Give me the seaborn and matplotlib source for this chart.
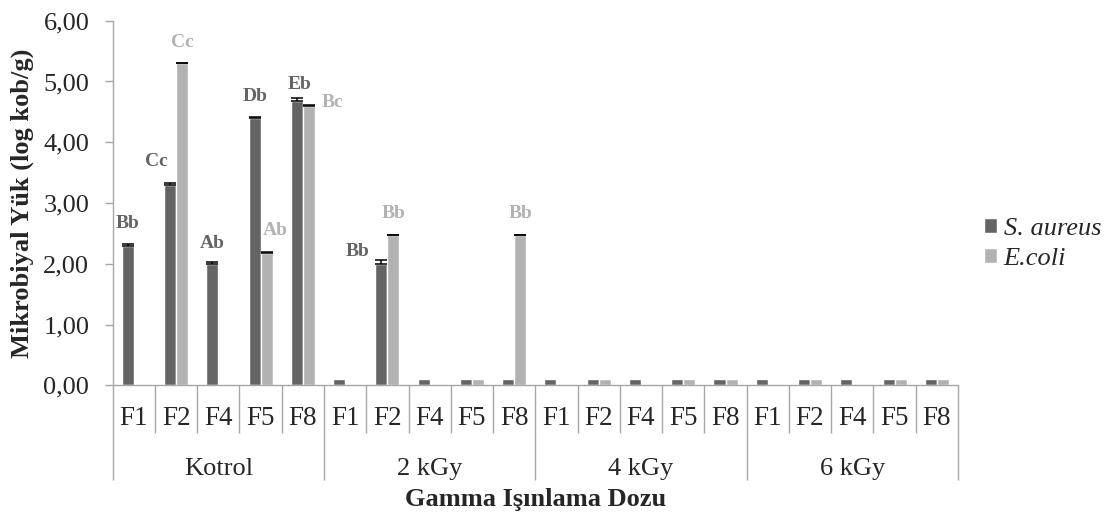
import numpy as np
import pandas as pd
import matplotlib
matplotlib.use("Agg")
import matplotlib.pyplot as plt
import matplotlib.transforms as mtransforms
import seaborn as sns

# Irradiation doses and formulations
doses = ["Kotrol", "2 kGy", "4 kGy", "6 kGy"]
formulations = ["F1", "F2", "F4", "F5", "F8"]
species = ["S. aureus", "E.coli"]

# Mean microbial load (log kob/g), one row per dose, columns follow formulations
s_aureus = [
    [2.30, 3.30, 2.00, 4.40, 4.68],
    [0.10, 2.00, 0.10, 0.10, 0.10],
    [0.10, 0.10, 0.10, 0.10, 0.10],
    [0.10, 0.10, 0.10, 0.10, 0.10],
]
e_coli = [
    [0.00, 5.30, 0.00, 2.17, 4.60],
    [0.00, 2.47, 0.00, 0.10, 2.47],
    [0.00, 0.10, 0.00, 0.10, 0.10],
    [0.00, 0.10, 0.00, 0.10, 0.10],
]
# Standard deviations
s_aureus_sd = [
    [0.02, 0.03, 0.03, 0.01, 0.04],
    [0.00, 0.07, 0.00, 0.00, 0.00],
    [0.00, 0.00, 0.00, 0.00, 0.00],
    [0.00, 0.00, 0.00, 0.00, 0.00],
]
e_coli_sd = [
    [0.00, 0.01, 0.00, 0.03, 0.01],
    [0.00, 0.01, 0.00, 0.00, 0.01],
    [0.00, 0.00, 0.00, 0.00, 0.00],
    [0.00, 0.00, 0.00, 0.00, 0.00],
]

# Significance letters: (dose, formulation, species, text)
letters = [
    ("Kotrol", "F1", "S. aureus", "Bb"),
    ("Kotrol", "F2", "S. aureus", "Cc"),
    ("Kotrol", "F4", "S. aureus", "Ab"),
    ("Kotrol", "F5", "S. aureus", "Db"),
    ("Kotrol", "F8", "S. aureus", "Eb"),
    ("Kotrol", "F2", "E.coli", "Cc"),
    ("Kotrol", "F5", "E.coli", "Ab"),
    ("Kotrol", "F8", "E.coli", "Bc"),
    ("2 kGy", "F2", "S. aureus", "Bb"),
    ("2 kGy", "F2", "E.coli", "Bb"),
    ("2 kGy", "F8", "E.coli", "Bb"),
]
# Label placement tweaks: horizontal shift in points, vertical gap above the bar in data units
letter_nudges = [
    (0, 0.34), (-10, 0.36), (0, 0.31), (0, 0.34), (2, 0.23),
    (0, 0.33), (6, 0.34), (17, 0.04), (-17, 0.13), (0, 0.35), (0, 0.35),
]

colors = {"S. aureus": "#646464", "E.coli": "#b2b2b2"}

rows = []
for gi, d in enumerate(doses):
    for fi, f in enumerate(formulations):
        key = f"{d}|{f}"
        rows.append(dict(cat=key, species="S. aureus", value=s_aureus[gi][fi], sd=s_aureus_sd[gi][fi]))
        rows.append(dict(cat=key, species="E.coli", value=e_coli[gi][fi], sd=e_coli_sd[gi][fi]))
df = pd.DataFrame(rows)
order = [f"{d}|{f}" for d in doses for f in formulations]

sns.set_style("white")
plt.rcParams["font.family"] = ["Liberation Serif", "DejaVu Serif"]

fig = plt.figure(figsize=(11.1, 5.15), dpi=100)
ax = fig.add_axes([0.10153, 0.25184, 0.76153, 0.70796])

sns.barplot(data=df, x="cat", y="value", hue="species", order=order,
            hue_order=species, palette=colors, width=0.57, errorbar=None,
            saturation=1, ax=ax)

# error bars from the standard deviations
for h, sp in enumerate(species):
    cont = ax.containers[h]
    sub = df[df.species == sp].set_index("cat").loc[order]
    for i, bar in enumerate(cont):
        sd = sub["sd"].iloc[i]
        if sd > 0:
            xc = bar.get_x() + bar.get_width() / 2
            ax.errorbar(xc, bar.get_height(), yerr=[[0], [sd]], fmt="none",
                        ecolor="black", elinewidth=1.1, capsize=4.3, capthick=1.1)

# significance letters
for (d, f, sp, txt), (dx, dy) in zip(letters, letter_nudges):
    h = species.index(sp)
    i = order.index(f"{d}|{f}")
    bar = ax.containers[h][i]
    sub = df[(df.cat == f"{d}|{f}") & (df.species == sp)].iloc[0]
    xc = bar.get_x() + bar.get_width() / 2
    ax.annotate(txt, xy=(xc, sub["value"] + sub["sd"] + dy), xytext=(dx, 0),
                textcoords="offset points", ha="center", va="center",
                fontsize=14, fontweight="bold", color=colors[sp])

ax.set_ylim(0, 6)
ax.set_xlim(-0.5, len(order) - 0.5)
ax.set_yticks(np.arange(0, 7, 1))
ax.set_yticklabels([f"{v:.2f}".replace(".", ",") for v in np.arange(0, 7, 1)], fontsize=19)
ax.set_xticks([])
ax.set_xlabel("")
ax.set_ylabel("")
ax.tick_params(axis="y", length=5.8, width=1.0, color="#a6a6a6", pad=11, left=True, direction="out")

line_col = "#a6a6a6"
for s in ["top", "right"]:
    ax.spines[s].set_visible(False)
for s in ["left", "bottom"]:
    ax.spines[s].set_color(line_col)
    ax.spines[s].set_linewidth(1.0)

trans = mtransforms.blended_transform_factory(ax.transData, ax.transAxes)
# category and dose labels below the axis
for i, key in enumerate(order):
    ax.text(i, -0.1089, key.split("|")[1], transform=trans, ha="center",
            va="baseline", fontsize=19.5)
for gi, d in enumerate(doses):
    xc = gi * len(formulations) + (len(formulations) - 1) / 2
    ax.text(xc, -0.246, d, transform=trans, ha="center", va="baseline", fontsize=19)
for i in range(len(order) + 1):
    xb = i - 0.5
    ylow = -0.2598 if i % len(formulations) == 0 else -0.1308
    ax.plot([xb, xb], [0, ylow], transform=trans, color=line_col, lw=1.0,
            clip_on=False, solid_capstyle="butt")

ax.text((len(order) - 1) / 2, -0.331, "Gamma Işınlama Dozu", transform=trans,
        ha="center", va="baseline", fontsize=19, fontweight="bold")
fig.text(22 / 1110, 1 - 203 / 515, "Mikrobiyal Yük (log kob/g)", rotation=90,
         ha="center", va="center", fontsize=19, fontweight="bold")

leg = ax.legend(loc="center left", bbox_to_anchor=(984 / 1110, 1 - 244 / 515),
                bbox_transform=fig.transFigure, frameon=False, fontsize=19,
                handlelength=0.49, handleheight=0.49, handletextpad=0.25,
                labelspacing=0.3, borderpad=0, borderaxespad=0)
for t in leg.get_texts():
    t.set_fontstyle("italic")

fig.savefig("out.png", dpi=100)
